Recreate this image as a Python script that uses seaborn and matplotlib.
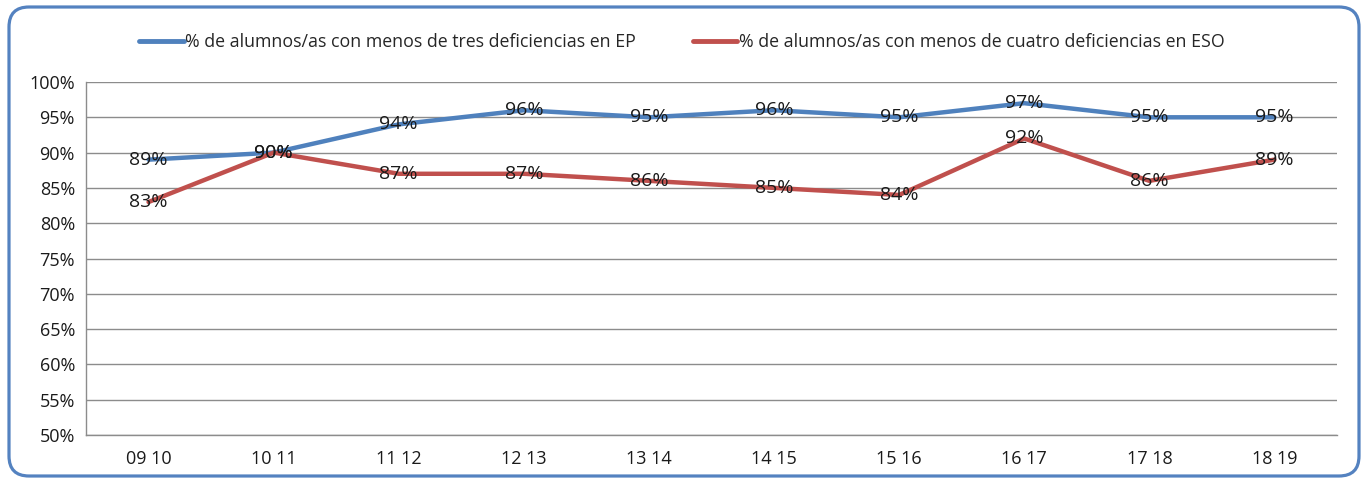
import matplotlib
matplotlib.use("Agg")
import matplotlib.pyplot as plt
import seaborn as sns
import pandas as pd
from matplotlib.patches import FancyBboxPatch
from matplotlib.lines import Line2D
from matplotlib.ticker import FixedLocator, FuncFormatter

categories = ["09 10", "10 11", "11 12", "12 13", "13 14", "14 15", "15 16", "16 17", "17 18", "18 19"]
ep_values = [0.89, 0.90, 0.94, 0.96, 0.95, 0.96, 0.95, 0.97, 0.95, 0.95]
eso_values = [0.83, 0.90, 0.87, 0.87, 0.86, 0.85, 0.84, 0.92, 0.86, 0.89]
series_names = ["% de alumnos/as con menos de tres deficiencias en EP",
                "% de alumnos/as con menos de cuatro deficiencias en ESO"]
y_ticks = [0.50, 0.55, 0.60, 0.65, 0.70, 0.75, 0.80, 0.85, 0.90, 0.95, 1.00]

colors = ["#4F81BD", "#C0504D"]

df = pd.DataFrame({
    "curso": categories * 2,
    "valor": ep_values + eso_values,
    "serie": [series_names[0]] * len(categories) + [series_names[1]] * len(categories),
})

sns.set_style("white")
plt.rcParams["font.family"] = ["Open Sans", "DejaVu Sans"]

W, H = 1367, 483
fig = plt.figure(figsize=(W / 100, H / 100), dpi=100)
ax = fig.add_axes([86 / W, 1 - 435 / H, (1337 - 86) / W, (435 - 82) / H])

sns.lineplot(data=df, x="curso", y="valor", hue="serie", palette=colors,
             linewidth=3.2, sort=False, ax=ax, legend=False)

ax.set_xlim(-0.5, len(categories) - 0.5)
ax.set_ylim(0.5, 1.0)
ax.set_xlabel("")
ax.set_ylabel("")

ax.yaxis.set_major_locator(FixedLocator(y_ticks))
ax.yaxis.set_major_formatter(FuncFormatter(lambda v, p: f"{round(v * 100)}%"))
ax.grid(axis="y", color="#8C8C8C", linewidth=1)
ax.grid(axis="x", visible=False)
ax.set_axisbelow(True)
for s in ["top", "right"]:
    ax.spines[s].set_visible(False)
for s in ["left", "bottom"]:
    ax.spines[s].set_color("#8C8C8C")
    ax.spines[s].set_linewidth(1)

ax.set_xticks(range(len(categories)))
ax.set_xticklabels(categories)
ax.set_xticks([i - 0.5 for i in range(len(categories) + 1)], minor=True)
ax.tick_params(axis="x", which="major", length=0, pad=11, labelsize=13, labelcolor="#1a1a1a")
ax.tick_params(axis="x", which="minor", length=6, color="#8C8C8C", direction="out")
ax.tick_params(axis="y", which="major", length=5, color="#8C8C8C", direction="out",
               labelsize=13, labelcolor="#1a1a1a", pad=3)

for vals in (ep_values, eso_values):
    for i, v in enumerate(vals):
        ax.text(i, v, f"{round(v * 100)}%", ha="center", va="center",
                fontsize=14, color="#1a1a1a")

handles = [Line2D([0], [0], color=c, linewidth=3.5) for c in colors]
fig.legend(handles, series_names, loc="center", bbox_to_anchor=(682 / W, 1 - 42 / H),
           ncol=2, frameon=False, fontsize=12.8, handlelength=2.5, handletextpad=0.1,
           columnspacing=3.2)

frame = FancyBboxPatch((9, 7), 1350, 469,
                       boxstyle="round,pad=0,rounding_size=20",
                       transform=None, facecolor="none",
                       edgecolor="#5482C0", linewidth=2.3)
fig.patches.append(frame)

fig.savefig("out.png", dpi=100)
